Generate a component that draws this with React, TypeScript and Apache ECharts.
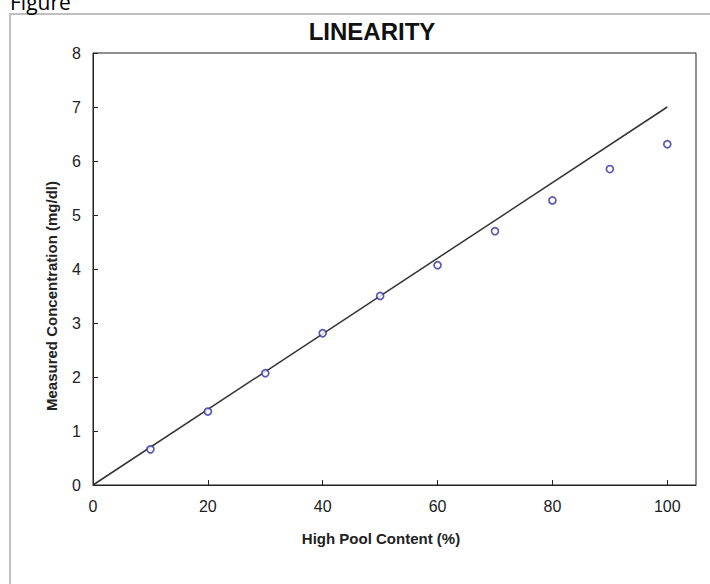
import React, { useEffect, useRef } from "react";
import * as echarts from "echarts";

const poolContent = [10, 20, 30, 40, 50, 60, 70, 80, 90, 100];
const measured = [0.66, 1.36, 2.07, 2.81, 3.5, 4.07, 4.7, 5.27, 5.85, 6.31];
const fitX = [0, 100];
const fitY = [0, 7];
const xTicks = [0, 20, 40, 60, 80, 100];
const yTicks = [0, 1, 2, 3, 4, 5, 6, 7, 8];

export default function App() {
  const ref = useRef<HTMLDivElement>(null);
  useEffect(() => {
    document.body.style.margin = "0";
    const chart = echarts.init(ref.current!, undefined, { renderer: "svg" });
    const font = "'Liberation Sans', Arial, sans-serif";
    chart.setOption({
      animation: false,
      backgroundColor: "#ffffff",
      grid: {
        left: 93,
        top: 53,
        right: 14,
        bottom: 99,
        show: true,
        borderColor: "#222",
        borderWidth: 1,
        backgroundColor: "transparent",
      },
      xAxis: {
        type: "value",
        min: 0,
        max: 105,
        interval: 20,
        axisLine: { show: true, lineStyle: { color: "#222", width: 1 } },
        axisTick: { show: true, inside: true, length: 5, customValues: xTicks, lineStyle: { color: "#222" } },
        axisLabel: {
          customValues: xTicks,
          fontFamily: font,
          fontSize: 16,
          color: "#222",
          margin: 13,
          formatter: (v: number) => (v % 20 === 0 && v <= 100 ? String(v) : ""),
        },
        splitLine: { show: false },
      },
      yAxis: {
        type: "value",
        min: 0,
        max: 8,
        interval: 1,
        axisLine: { show: true, lineStyle: { color: "#222", width: 1 } },
        axisTick: { show: true, inside: true, length: 5, customValues: yTicks, lineStyle: { color: "#222" } },
        axisLabel: { customValues: yTicks, fontFamily: font, fontSize: 16, color: "#222", margin: 12 },
        splitLine: { show: false },
      },
      graphic: [
        {
          type: "polyline",
          shape: { points: [[10, 584], [10, 14], [710, 14]] },
          style: { stroke: "#c0c0c0", lineWidth: 2, fill: "none" },
          silent: true,
        },
        {
          type: "text",
          x: 10,
          y: 12,
          style: {
            text: "Figure",
            fontFamily: "'Open Sans', sans-serif",
            fontSize: 21,
            fill: "#000",
            textAlign: "left",
            textVerticalAlign: "bottom",
          },
        },
        {
          type: "text",
          x: 372,
          y: 31,
          style: {
            text: "LINEARITY",
            fontFamily: font,
            fontSize: 24,
            fontWeight: "bold",
            fill: "#111",
            textAlign: "center",
            textVerticalAlign: "middle",
          },
        },
        {
          type: "text",
          x: 381,
          y: 538,
          style: {
            text: "High Pool Content (%)",
            fontFamily: font,
            fontSize: 15,
            fontWeight: "bold",
            fill: "#222",
            textAlign: "center",
            textVerticalAlign: "middle",
          },
        },
        {
          type: "text",
          x: 51,
          y: 296,
          rotation: Math.PI / 2,
          style: {
            text: "Measured Concentration (mg/dl)",
            fontFamily: font,
            fontSize: 15,
            fontWeight: "bold",
            fill: "#222",
            textAlign: "center",
            textVerticalAlign: "middle",
          },
        },
      ],
      series: [
        {
          type: "line",
          data: fitX.map((x, i) => [x, fitY[i]]),
          symbol: "none",
          lineStyle: { color: "#333", width: 1.5 },
          z: 2,
        },
        {
          type: "scatter",
          data: poolContent.map((x, i) => [x, measured[i]]),
          symbol: "circle",
          symbolSize: 7,
          itemStyle: { color: "#ffffff", borderColor: "#2e2ea6", borderWidth: 1.7 },
          z: 3,
        },
      ],
    });
    return () => chart.dispose();
  }, []);
  return <div ref={ref} style={{ width: 710, height: 584 }} />;
}
